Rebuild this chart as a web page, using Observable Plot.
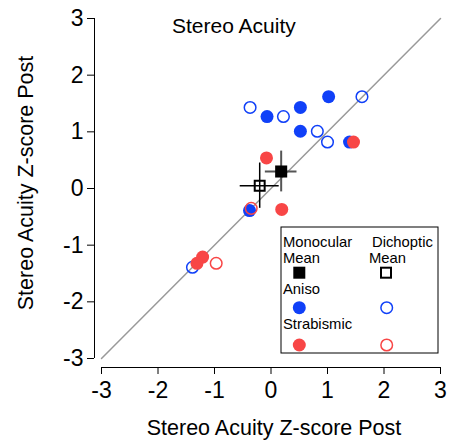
<!DOCTYPE html>
<html>
<head>
<meta charset="utf-8">
<script src="https://cdn.jsdelivr.net/npm/d3@7"></script>
<script src="https://cdn.jsdelivr.net/npm/@observablehq/plot@0.6"></script>
<style>
  html, body { margin: 0; padding: 0; background: #fff; }
  svg { font-family: "Liberation Sans", Arial, sans-serif; }
</style>
</head>
<body>
<div id="chart"></div>
<script>
// ---- data ----
const title = "Stereo Acuity";
const xLabel = "Stereo Acuity Z-score Post";
const yLabel = "Stereo Acuity Z-score Post";
const axisDomain = [-3, 3];
const tickValues = [-3, -2, -1, 0, 1, 2, 3];

const anisoMonoX = [-0.07, 0.52, 1.02, 0.52, 1.39, -0.38];
const anisoMonoY = [1.27, 1.43, 1.62, 1.01, 0.82, -0.39];
const anisoDichX = [-0.37, 0.22, 1.61, 0.82, 1.00, -1.39];
const anisoDichY = [1.43, 1.27, 1.62, 1.01, 0.82, -1.39];
const strabMonoX = [1.46, -0.08, 0.19, -1.21, -1.31];
const strabMonoY = [0.82, 0.54, -0.37, -1.21, -1.32];
const strabDichX = [-0.35, -0.97];
const strabDichY = [-0.35, -1.32];

const meanNames = ["Monocular", "Dichoptic"];
const meanX = [0.18, -0.20];
const meanY = [0.30, 0.05];
const meanXErr = [0.28, 0.345];
const meanYErr = [0.36, 0.40];

const blue = "#1040f8";
const red = "#f84646";

const pts = (xs, ys) => xs.map((x, i) => ({x, y: ys[i]}));
const anisoMono = pts(anisoMonoX, anisoMonoY);
const anisoDich = pts(anisoDichX, anisoDichY);
const strabMono = pts(strabMonoX, strabMonoY);
const strabDich = pts(strabDichX, strabDichY);
const means = meanNames.map((name, i) => ({name, x: meanX[i], y: meanY[i], xe: meanXErr[i], ye: meanYErr[i]}));
const mono = means.filter(d => d.name === "Monocular");
const dich = means.filter(d => d.name === "Dichoptic");
const diag = axisDomain.map(v => ({x: v, y: v}));

const W = 451, H = 445;
const chart = Plot.plot({
  width: W,
  height: H,
  marginLeft: 101,
  marginRight: 11,
  marginTop: 18,
  marginBottom: 87,
  style: {fontFamily: "'Liberation Sans', Arial, sans-serif", background: "white", overflow: "visible"},
  x: {domain: axisDomain, label: null},
  y: {domain: axisDomain, label: null},
  marks: [
    Plot.line(diag, {x: "x", y: "y", stroke: "#999", strokeWidth: 1.5}),
    // axis lines
    Plot.ruleX([axisDomain[0]], {y1: axisDomain[0], y2: axisDomain[1], dx: -7, stroke: "black", strokeWidth: 1}),
    Plot.ruleY([axisDomain[0]], {x1: axisDomain[0], x2: axisDomain[1], dy: 9, stroke: "black", strokeWidth: 1}),
    Plot.axisX({ticks: tickValues, tickSize: 7, dy: 9, tickPadding: 7, fontSize: 23, label: null, tickFormat: d => String(d).replace("−", "-")}),
    Plot.axisY({ticks: tickValues, tickSize: 7, dx: -7, tickPadding: 4, fontSize: 23, label: null, tickFormat: d => String(d).replace("−", "-")}),
    // error bars
    Plot.ruleY(mono, {y: "y", x1: d => d.x - d.xe, x2: d => d.x + d.xe, stroke: "#555", strokeWidth: 2}),
    Plot.ruleX(mono, {x: "x", y1: d => d.y - d.ye, y2: d => d.y + d.ye, stroke: "#555", strokeWidth: 2}),
    Plot.ruleY(dich, {y: "y", x1: d => d.x - d.xe, x2: d => d.x + d.xe, stroke: "black", strokeWidth: 1.5}),
    Plot.ruleX(dich, {x: "x", y1: d => d.y - d.ye, y2: d => d.y + d.ye, stroke: "black", strokeWidth: 1.5}),
    // points
    Plot.dot(anisoMono, {x: "x", y: "y", r: 6.5, fill: blue, stroke: "none"}),
    Plot.dot(anisoDich, {x: "x", y: "y", r: 5.8, fill: "none", stroke: blue, strokeWidth: 1.5}),
    Plot.dot(strabMono, {x: "x", y: "y", r: 6.5, fill: red, stroke: "none"}),
    Plot.dot(strabDich, {x: "x", y: "y", r: 5.8, fill: "none", stroke: red, strokeWidth: 1.5}),
    Plot.dot(mono, {x: "x", y: "y", symbol: "square", r: 6.8, fill: "black", stroke: "none"}),
    Plot.dot(dich, {x: "x", y: "y", symbol: "square", r: 5.6, fill: "none", stroke: "black", strokeWidth: 2})
  ]
});

const svg = d3.select(chart);
svg.selectAll("g[aria-label$='tick label'] text").attr("fill", "black");

const font = "'Liberation Sans', Arial, sans-serif";
// title
svg.append("text").attr("x", 172).attr("y", 33).attr("text-anchor", "start").attr("font-size", 21).attr("font-family", font).text(title);
// axis labels
svg.append("text").attr("x", 274).attr("y", 435).attr("text-anchor", "middle").attr("font-size", 21.5).attr("font-family", font).text(xLabel);
svg.append("text").attr("transform", "translate(33,183) rotate(-90)").attr("text-anchor", "middle").attr("font-size", 21.5).attr("font-family", font).text(yLabel);

// legend
const lg = svg.append("g").attr("font-family", font).attr("font-size", 14.8).attr("text-anchor", "start");
lg.append("rect").attr("x", 281).attr("y", 227).attr("width", 157).attr("height", 126).attr("fill", "white").attr("stroke", "black").attr("stroke-width", 1);
const lt = (x, y, t) => lg.append("text").attr("x", x).attr("y", y).attr("text-anchor", "start").text(t);
lt(283, 247, "Monocular");
lt(372, 247, "Dichoptic");
lt(283, 263, "Mean");
lt(369, 263, "Mean");
lt(283, 294, "Aniso");
lt(283, 329, "Strabismic");
lg.append("rect").attr("x", 293.3).attr("y", 266.7).attr("width", 12).attr("height", 12).attr("fill", "black");
lg.append("rect").attr("x", 381).attr("y", 267.7).attr("width", 10).attr("height", 10).attr("fill", "none").attr("stroke", "black").attr("stroke-width", 2);
lg.append("circle").attr("cx", 299.3).attr("cy", 307.7).attr("r", 6.5).attr("fill", blue);
lg.append("circle").attr("cx", 386.7).attr("cy", 307.7).attr("r", 5.8).attr("fill", "none").attr("stroke", blue).attr("stroke-width", 1.5);
lg.append("circle").attr("cx", 299.3).attr("cy", 345).attr("r", 6.5).attr("fill", red);
lg.append("circle").attr("cx", 386.7).attr("cy", 345).attr("r", 5.8).attr("fill", "none").attr("stroke", red).attr("stroke-width", 1.5);

document.getElementById("chart").appendChild(chart);
</script>
</body>
</html>
